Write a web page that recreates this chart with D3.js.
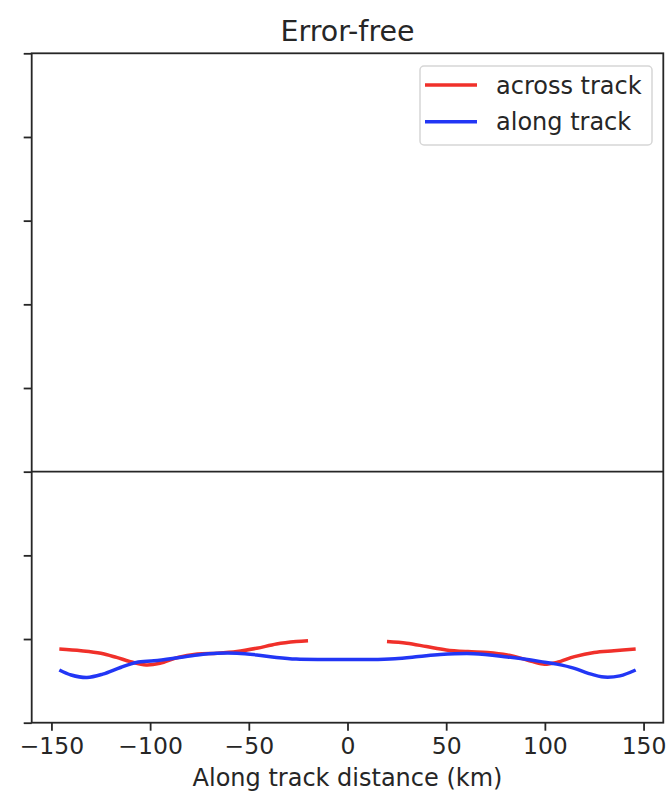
<!DOCTYPE html>
<html>
<head>
<meta charset="utf-8">
<script src="https://cdn.jsdelivr.net/npm/d3@7"></script>
<style>
  html, body { margin: 0; padding: 0; background: #fff; }
  svg { display: block; font-family: "DejaVu Sans", sans-serif; }
</style>
</head>
<body>
<svg id="chart" width="670" height="798"></svg>
<script>
// Along-track distance (km) and error profiles for each component
const acrossLeftX  = [-146, -135, -125, -117, -110, -102, -95, -86, -76, -66, -56, -46, -36, -26, -20];
const acrossLeftY  = [-2.12, -2.14, -2.17, -2.22, -2.27, -2.31, -2.29, -2.22, -2.18, -2.17, -2.15, -2.11, -2.06, -2.03, -2.02];
const acrossRightX = [20, 30, 40, 50, 61, 71, 81, 91, 99, 106, 115, 125, 135, 146];
const acrossRightY = [-2.03, -2.05, -2.09, -2.13, -2.15, -2.16, -2.19, -2.25, -2.30, -2.28, -2.21, -2.16, -2.14, -2.12];
const alongX = [-146, -140, -132, -124, -115, -107, -98, -88, -76, -66, -56, -46, -36, -26, -12, 0, 12, 24, 36, 47, 64, 81, 98, 106, 115, 122, 130, 138, 146];
const alongY = [-2.37, -2.43, -2.46, -2.42, -2.34, -2.28, -2.26, -2.23, -2.19, -2.17, -2.17, -2.19, -2.22, -2.24, -2.245, -2.245, -2.245, -2.235, -2.21, -2.185, -2.175, -2.215, -2.27, -2.30, -2.35, -2.41, -2.455, -2.44, -2.37];

const xTicks = [-150, -100, -50, 0, 50, 100, 150];
const yTicks = [-3, -2, -1, 0, 1, 2, 3, 4, 5];

const seriesNames = ["across track", "along track"];
const seriesColors = ["#f0302a", "#2236f5"];

const margin = { left: 31.7, right: 670 - 663.3, top: 53.3, bottom: 798 - 722.7 };
const W = 670, H = 798;

const svg = d3.select("#chart");
const x = d3.scaleLinear().domain([-160, 160]).range([margin.left, W - margin.right]);
const y = d3.scaleLinear().domain([-3, 5]).range([H - margin.bottom, margin.top]);

const ink = "#262626";
const fontSize = 24;

// zero reference line
svg.append("line")
  .attr("x1", x(-160)).attr("x2", x(160))
  .attr("y1", y(0)).attr("y2", y(0))
  .attr("stroke", ink).attr("stroke-width", 1.8);

// series lines
const line = d3.line().x(d => x(d[0])).y(d => y(d[1])).curve(d3.curveCatmullRom.alpha(0.5));
const zip = (a, b) => a.map((v, i) => [v, b[i]]);

const plot = svg.append("g");
plot.append("path").datum(zip(acrossLeftX, acrossLeftY))
  .attr("d", line).attr("fill", "none").attr("stroke", seriesColors[0]).attr("stroke-width", 3.5);
plot.append("path").datum(zip(acrossRightX, acrossRightY))
  .attr("d", line).attr("fill", "none").attr("stroke", seriesColors[0]).attr("stroke-width", 3.5);
plot.append("path").datum(zip(alongX, alongY))
  .attr("d", line).attr("fill", "none").attr("stroke", seriesColors[1]).attr("stroke-width", 3.5);

// axes
const xAxis = svg.append("g")
  .attr("transform", `translate(0,${y(-3)})`)
  .call(d3.axisBottom(x).tickValues(xTicks).tickSize(8).tickPadding(7).tickSizeOuter(0));
const yAxis = svg.append("g")
  .attr("transform", `translate(${x(-160)},0)`)
  .call(d3.axisLeft(y).tickValues(yTicks).tickSize(8).tickFormat("").tickSizeOuter(0));

[xAxis, yAxis].forEach(g => {
  g.select(".domain").remove();
  g.selectAll(".tick line").attr("stroke", ink).attr("stroke-width", 1.8);
  g.selectAll(".tick text").attr("fill", ink).attr("font-size", 23.5).attr("font-family", "DejaVu Sans");
});

// frame
svg.append("rect")
  .attr("x", x(-160)).attr("y", y(5))
  .attr("width", x(160) - x(-160)).attr("height", y(-3) - y(5))
  .attr("fill", "none").attr("stroke", ink).attr("stroke-width", 1.8);

// title and axis label
svg.append("text")
  .attr("x", (x(-160) + x(160)) / 2).attr("y", 41)
  .attr("text-anchor", "middle").attr("font-size", 28.5).attr("fill", ink)
  .text("Error-free");
svg.append("text")
  .attr("x", (x(-160) + x(160)) / 2).attr("y", 786)
  .attr("text-anchor", "middle").attr("font-size", fontSize).attr("fill", ink)
  .text("Along track distance (km)");

// legend
const legend = svg.append("g");
legend.append("rect")
  .attr("x", 420).attr("y", 66).attr("width", 232).attr("height", 79)
  .attr("rx", 4).attr("fill", "#fff").attr("fill-opacity", 0.8)
  .attr("stroke", "#d6d6d6").attr("stroke-width", 1.5);
seriesNames.forEach((name, i) => {
  const cy = 85 + i * 36.7;
  legend.append("line")
    .attr("x1", 425).attr("x2", 477).attr("y1", cy).attr("y2", cy)
    .attr("stroke", seriesColors[i]).attr("stroke-width", 3.5);
  legend.append("text")
    .attr("x", 496).attr("y", cy).attr("dy", "0.36em")
    .attr("font-size", fontSize).attr("fill", ink)
    .text(name);
});
</script>
</body>
</html>
